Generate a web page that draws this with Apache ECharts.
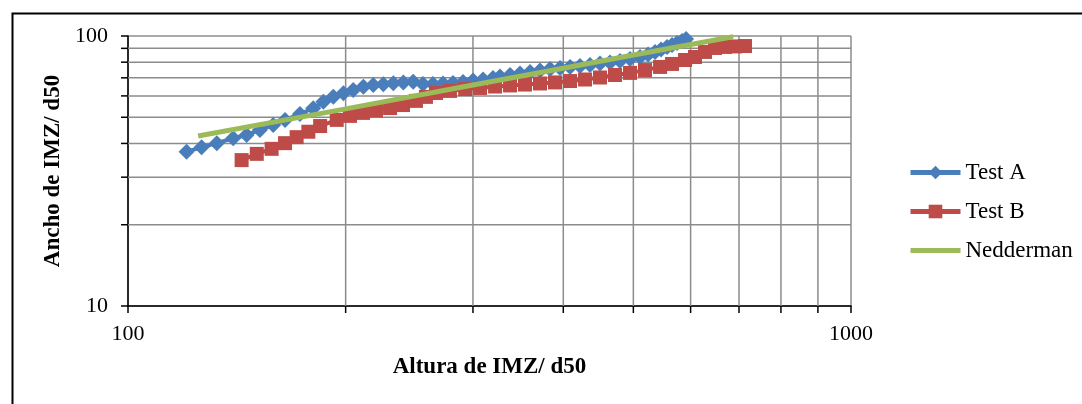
<!DOCTYPE html>
<html>
<head>
<meta charset="utf-8">
<script src="https://cdn.jsdelivr.net/npm/echarts@6/dist/echarts.min.js"></script>
<style>html,body{margin:0;padding:0;background:#fff}#c{width:1082px;height:404px}</style>
</head>
<body>
<div id="c"></div>
<script>
var testA = [
[120.5,37.3],[126.4,38.7],[132.7,40.1],[139.8,41.8],[145.9,43.0],[152.2,44.9],[158.8,46.8],[164.9,48.9],
[172.9,51.4],[180.4,54.0],[186.3,57.1],[192.3,59.6],[198.6,61.4],[204.9,63.1],[211.6,64.9],[218.4,65.9],
[225.5,66.2],[232.8,66.8],[240.3,67.2],[248.0,67.7],[255.8,66.4],[264.1,66.4],[272.7,66.7],[281.5,67.0],
[290.7,67.6],[300.1,68.4],[309.8,69.0],[319.8,69.9],[327.0,70.8],[337.6,71.7],[348.5,72.6],[359.8,73.6],
[371.4,74.5],[383.5,75.5],[395.9,76.1],[408.7,76.8],[421.9,77.4],[435.5,78.1],[449.6,79.1],[464.2,79.8],
[479.2,80.8],[494.7,82.2],[510.7,83.6],[524.0,85.4],[535.8,87.3],[546.1,89.1],[556.7,91.1],[565.6,92.6],
[574.6,94.2],[583.9,95.8],[591.4,97.5]
];
var testB = [
[143.6,34.7],[150.7,36.6],[158.0,38.2],[164.9,40.1],[171.1,42.2],[177.6,44.2],[184.4,46.4],[194.4,48.9],
[202.8,50.6],[211.4,51.9],[220.3,53.0],[230.4,54.1],[240.1,55.5],[250.2,57.5],[258.3,59.5],[266.7,61.5],
[278.8,62.6],[292.6,63.6],[306.8,64.2],[321.9,65.0],[337.6,65.6],[354.1,66.1],[371.4,66.7],[389.6,67.3],
[408.7,68.1],[428.7,69.0],[449.6,70.2],[471.6,71.7],[494.7,73.0],[518.9,74.8],[544.4,76.8],[565.6,78.8],
[589.5,81.5],[608.5,83.6],[628.2,87.3],[648.5,90.3],[669.5,91.1],[691.2,91.5],[713.5,91.8]
];
var nedderman = [[125,42.6],[200,53.7],[300,65.8],[400,76.0],[500,85.0],[600,93.0],[687,99.4]];
var xMinor = [200,300,400,500,600,700,800,900];
var yMinor = [20,30,40,50,60,70,80,90];
var xRange = [100,1000];
var yRange = [10,100];

var FONT = 'Liberation Serif';
var GRID = '#8c8c8c';

function gridSeries(values, vertical) {
  return {
    type: 'custom', silent: true, z: 1, clip: false, legendHoverLink: false,
    data: values.map(function (v) { return vertical ? [v, yRange[0]] : [xRange[0], v]; }),
    renderItem: function (params, api) {
      var a, b, t2;
      if (vertical) {
        a = api.coord([api.value(0), yRange[0]]);
        b = api.coord([api.value(0), yRange[1]]);
        t2 = [a[0], a[1] + 7];
      } else {
        a = api.coord([xRange[0], api.value(1)]);
        b = api.coord([xRange[1], api.value(1)]);
        t2 = [a[0] - 7, a[1]];
      }
      return { type: 'group', children: [
        { type: 'line', shape: { x1: a[0], y1: a[1], x2: b[0], y2: b[1] }, style: { stroke: GRID, lineWidth: 1.5 } },
        { type: 'line', shape: { x1: a[0], y1: a[1], x2: t2[0], y2: t2[1] }, style: { stroke: '#000', lineWidth: 1.5 } }
      ]};
    }
  };
}

var chart = echarts.init(document.getElementById('c'));
chart.setOption({
  animation: false,
  backgroundColor: '#fff',
  graphic: [{ type: 'rect', left: 10, top: 11, shape: { width: 1200, height: 500 }, style: { fill: 'none', stroke: '#000', lineWidth: 2 }, silent: true }],
  grid: { left: 128, right: 231, top: 36, bottom: 98 },
  legend: {
    orient: 'vertical', left: 903, top: 156, itemWidth: 50, itemHeight: 17, itemGap: 16,
    textStyle: { fontFamily: FONT, fontSize: 23, color: '#000' },
    lineStyle: { width: 5 },
    data: ['Test A', 'Test B', { name: 'Nedderman', itemStyle: { opacity: 0 } }]
  },
  xAxis: {
    type: 'log', logBase: 10, min: xRange[0], max: xRange[1],
    name: 'Altura de IMZ/ d50', nameLocation: 'middle', nameGap: 50,
    nameTextStyle: { fontFamily: FONT, fontSize: 23, fontWeight: 'bold', color: '#000' },
    axisLine: { show: true, lineStyle: { color: '#000', width: 1.5 } },
    axisTick: { show: true, inside: false, length: 7, lineStyle: { color: '#000', width: 1.5 } },
    axisLabel: { fontFamily: FONT, fontSize: 22, color: '#000', margin: 17, formatter: function (v) { return String(v); } },
    splitLine: { show: true, lineStyle: { color: GRID, width: 1.5 } }
  },
  yAxis: {
    type: 'log', logBase: 10, min: yRange[0], max: yRange[1],
    name: 'Ancho de IMZ/ d50', nameLocation: 'middle', nameGap: 62,
    nameTextStyle: { fontFamily: FONT, fontSize: 23, fontWeight: 'bold', color: '#000' },
    axisLine: { show: true, lineStyle: { color: '#000', width: 1.5 } },
    axisTick: { show: true, inside: false, length: 7, lineStyle: { color: '#000', width: 1.5 } },
    axisLabel: { fontFamily: FONT, fontSize: 22, color: '#000', margin: 20, formatter: function (v) { return String(v); } },
    splitLine: { show: true, lineStyle: { color: GRID, width: 1.5 } }
  },
  series: [
    gridSeries(xMinor, true),
    gridSeries(yMinor, false),
    { name: 'Test A', type: 'line', z: 3, data: testA, symbol: 'diamond', symbolSize: 16, showAllSymbol: true,
      itemStyle: { color: '#4A7EBB' }, lineStyle: { color: '#4A7EBB', width: 4 } },
    { name: 'Test B', type: 'line', z: 4, data: testB, symbol: 'rect', symbolSize: 14, showAllSymbol: true,
      itemStyle: { color: '#BE4B48' }, lineStyle: { color: '#BE4B48', width: 4 } },
    { name: 'Nedderman', type: 'line', z: 5, data: nedderman, showSymbol: false, symbol: 'none',
      itemStyle: { color: '#9BBB59' }, lineStyle: { color: '#9BBB59', width: 5 } }
  ]
});
</script>
</body>
</html>
